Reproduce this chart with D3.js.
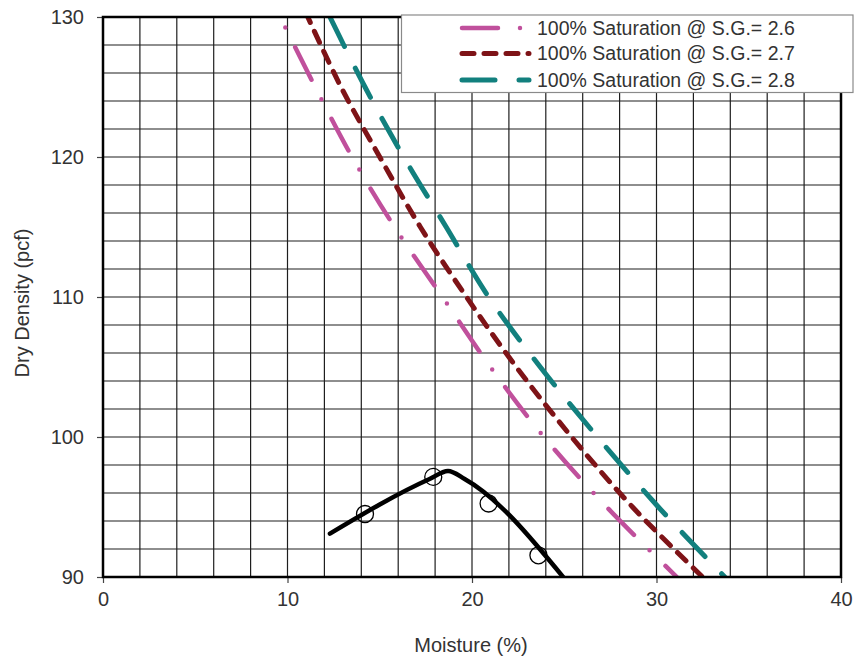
<!DOCTYPE html>
<html>
<head>
<meta charset="utf-8">
<script src="https://cdn.jsdelivr.net/npm/d3@7"></script>
<style>
  html, body { margin: 0; padding: 0; background: #fff; }
  svg { display: block; font-family: "Liberation Sans", Arial, sans-serif; }
</style>
</head>
<body>
<svg id="chart" width="867" height="658"></svg>
<script>
// ---- data ----
const xTicks = [0, 10, 20, 30, 40];
const yTicks = [90, 100, 110, 120, 130];
const seriesNames = ["100% Saturation @ S.G.= 2.6", "100% Saturation @ S.G.= 2.7", "100% Saturation @ S.G.= 2.8"];
const zavDensity = [130, 125, 120, 115, 110, 105, 100, 95, 90];
const sg26Moisture = [9.6, 11.5, 13.5, 15.8, 18.4, 21.0, 23.9, 27.3, 31.1];
const sg27Moisture = [11.1, 12.9, 15.0, 17.2, 19.7, 22.4, 25.4, 28.7, 32.5];
const sg28Moisture = [12.3, 14.2, 16.3, 18.6, 20.9, 23.7, 26.8, 30.1, 33.7];
const testMoisture = [14.2, 17.9, 20.9, 23.6];
const testDensity = [94.5, 97.15, 95.25, 91.55];
const curveMoisture = [12.3, 17.7, 18.7, 19.6, 25.0];
const curveDensity = [93.1, 97.0, 97.57, 97.0, 89.9];

// ---- layout ----
const svg = d3.select("#chart");
const L = 103, R = 841, T = 17, B = 577;
const x = d3.scaleLinear().domain([0, 40]).range([L, R]);
const y = d3.scaleLinear().domain([90, 130]).range([B, T]);
const textColor = "#333";

// clip
svg.append("defs").append("clipPath").attr("id", "plotclip")
  .append("rect").attr("x", L).attr("y", T).attr("width", R - L).attr("height", B - T);

// gridlines
const gridX = d3.range(2, 40, 2);
const gridY = d3.range(92, 130, 2);
const grid = svg.append("g");
grid.selectAll("line.v").data(gridX).enter().append("line")
  .attr("x1", d => x(d)).attr("x2", d => x(d)).attr("y1", T).attr("y2", B)
  .attr("stroke", "#1e1e1e").attr("stroke-width", 1.2);
grid.selectAll("line.h").data(gridY).enter().append("line")
  .attr("y1", d => y(d)).attr("y2", d => y(d)).attr("x1", L).attr("x2", R)
  .attr("stroke", "#1e1e1e").attr("stroke-width", 1.2);

// axes
const xAxis = svg.append("g").attr("transform", `translate(0,${B})`)
  .call(d3.axisBottom(x).tickValues(xTicks).tickSize(6).tickPadding(9).tickFormat(d3.format("d")));
const yAxis = svg.append("g").attr("transform", `translate(${L},0)`)
  .call(d3.axisLeft(y).tickValues(yTicks).tickSize(6).tickPadding(13).tickFormat(d3.format("d")));
[xAxis, yAxis].forEach(a => {
  a.select(".domain").remove();
  a.selectAll(".tick line").attr("stroke", "#444").attr("stroke-width", 1.2);
  a.selectAll(".tick text").attr("fill", textColor).style("font-size", "20px")
    .style("font-family", "'Liberation Sans', Arial, sans-serif");
});

// saturation lines
const plot = svg.append("g").attr("clip-path", "url(#plotclip)");
const line = d3.line().x(d => x(d[0])).y(d => y(d[1])).curve(d3.curveCatmullRom);
const zav = [
  { m: sg26Moisture, color: "#C0509C", width: 4.5, dash: "36,22,0,22", offset: 46 },
  { m: sg27Moisture, color: "#7E1317", width: 5, dash: "12,10", offset: 6 },
  { m: sg28Moisture, color: "#12807E", width: 5, dash: "33,24", offset: 0 }
];
zav.forEach(s => {
  const pts = s.m.map((w, i) => [w, zavDensity[i]]);
  plot.append("path").attr("d", line(pts)).attr("fill", "none")
    .attr("stroke", s.color).attr("stroke-width", s.width)
    .attr("stroke-dasharray", s.dash).attr("stroke-dashoffset", s.offset)
    .attr("stroke-linecap", "round");
});

// compaction curve
const cpts = curveMoisture.map((w, i) => [w, curveDensity[i]]);
plot.append("path")
  .attr("d", d3.line().x(d => x(d[0])).y(d => y(d[1])).curve(d3.curveMonotoneX)(cpts))
  .attr("fill", "none").attr("stroke", "#000").attr("stroke-width", 4.5)
  .attr("stroke-linecap", "round").attr("stroke-linejoin", "round");

// test points
plot.selectAll("circle.pt").data(testMoisture.map((w, i) => [w, testDensity[i]])).enter()
  .append("circle").attr("cx", d => x(d[0])).attr("cy", d => y(d[1])).attr("r", 8.5)
  .attr("fill", "none").attr("stroke", "#000").attr("stroke-width", 1.3);

// frame
svg.append("rect").attr("x", L).attr("y", T).attr("width", R - L).attr("height", B - T)
  .attr("fill", "none").attr("stroke", "#000").attr("stroke-width", 2.5);

// legend
const lg = svg.append("g");
lg.append("rect").attr("x", 401.5).attr("y", 15).attr("width", 451.5).attr("height", 77.5)
  .attr("fill", "#fff").attr("stroke", "#8a8a8a").attr("stroke-width", 1.2);
const rowsY = [28, 53.5, 80];
zav.forEach((s, i) => {
  lg.append("line").attr("x1", 462).attr("x2", 529).attr("y1", rowsY[i]).attr("y2", rowsY[i])
    .attr("stroke", s.color).attr("stroke-width", s.width)
    .attr("stroke-dasharray", s.dash).attr("stroke-linecap", "round");
  lg.append("text").attr("x", 537).attr("y", rowsY[i] + 6.5)
    .attr("fill", textColor).style("font-size", "19.5px").text(seriesNames[i]);
});

// axis titles
svg.append("text").attr("x", 471).attr("y", 652).attr("text-anchor", "middle")
  .attr("fill", textColor).style("font-size", "20px").text("Moisture (%)");
svg.append("text").attr("transform", "translate(29,303) rotate(-90)").attr("text-anchor", "middle")
  .attr("fill", textColor).style("font-size", "20px").text("Dry Density (pcf)");
</script>
</body>
</html>
